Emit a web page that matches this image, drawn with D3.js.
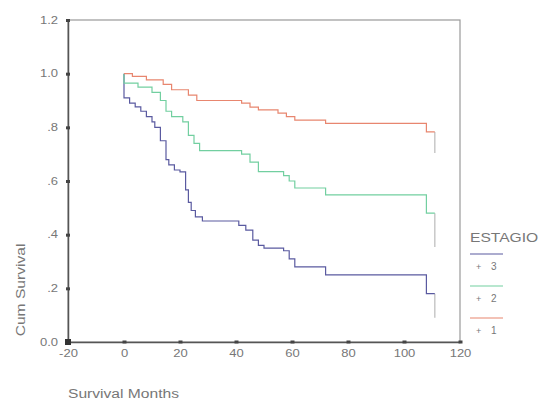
<!DOCTYPE html>
<html>
<head>
<meta charset="utf-8" />
<title>Survival</title>
<style>
body { margin: 0; background: #fff; }
#graph { width: 546px; height: 402px; }
text { font-family: "Liberation Sans", Arial, sans-serif; fill: #777; }
</style>
</head>
<body>
<div id="graph"></div>
<script src="https://d3js.org/d3.v7.min.js"></script>
<script>
// tick labels
var xTicks = [-20, 0, 20, 40, 60, 80, 100, 120];
var yTicks = [0, 0.2, 0.4, 0.6, 0.8, 1.0, 1.2];
var yTickLabels = ["0.0", ".2", ".4", ".6", ".8", "1.0", "1.2"];

// series: ESTAGIO groups
var groups = ["3", "2", "1"];
var colors = ["#5a5aa0", "#72cfa0", "#e8866f"];

var time3 = [0, 0, 2, 4, 6, 8, 10, 11, 13, 15, 16, 18, 20, 22, 23, 24, 25.5, 28, 41, 43.5, 46, 48, 50, 57, 59, 61, 72, 108, 111];
var surv3 = [1.0, 0.91, 0.89, 0.876, 0.86, 0.84, 0.82, 0.80, 0.75, 0.68, 0.66, 0.641, 0.634, 0.567, 0.52, 0.49, 0.466, 0.451, 0.435, 0.417, 0.38, 0.36, 0.35, 0.34, 0.31, 0.28, 0.25, 0.18, 0.18];

var time2 = [0, 0, 5, 10, 13, 15, 17, 21, 23, 25, 27, 42, 45, 48, 57, 59, 61, 72, 108, 111];
var surv2 = [1.0, 0.965, 0.95, 0.93, 0.90, 0.86, 0.84, 0.82, 0.77, 0.74, 0.713, 0.70, 0.67, 0.635, 0.62, 0.60, 0.574, 0.548, 0.48, 0.48];

var time1 = [0, 3, 8, 14, 17, 23, 26, 42, 45, 48, 55, 58, 61, 72, 108, 111];
var surv1 = [1.0, 0.99, 0.977, 0.96, 0.94, 0.92, 0.90, 0.89, 0.875, 0.865, 0.853, 0.84, 0.827, 0.815, 0.783, 0.783];

// censored tails at the last follow-up
var tailTime = 111;
var tailEnd = [0.09, 0.354, 0.704];

!(function(){
    "use strict"
    var width = 546, height = 402;
    var margin = {top: 20, left: 68, bottom: 60, right: 86};
    var chartWidth = width - margin.left - margin.right;
    var chartHeight = height - margin.top - margin.bottom;
    var stretch = 1.3;  // the original text is drawn wide

    var svg = d3.select("#graph").append("svg").attr("width", width).attr("height", height);
    var chartLayer = svg.append("g").attr("transform", "translate(" + [margin.left, margin.top] + ")");

    var xScale = d3.scaleLinear().domain([-20, 120]).range([0, chartWidth]);
    var yScale = d3.scaleLinear().domain([0, 1.2]).range([chartHeight, 0]);

    function widen(sel) {
        sel.each(function(){
            var w = this.getComputedTextLength();
            d3.select(this).attr("textLength", w * stretch).attr("lengthAdjust", "spacingAndGlyphs");
        });
    }

    // frame
    chartLayer.append("rect")
        .attr("width", chartWidth).attr("height", chartHeight)
        .attr("fill", "none").attr("stroke", "#999").attr("stroke-width", 1.2);

    var yAxis = d3.axisLeft(yScale).tickValues(yTicks).tickSize(0).tickPadding(10)
        .tickFormat(function(d, i){ return yTickLabels[i] });
    var xAxis = d3.axisBottom(xScale).tickValues(xTicks).tickSize(0).tickPadding(8)
        .tickFormat(function(d){ return d < 0 ? "-" + (-d) : d });

    var gy = chartLayer.append("g").attr("class", "axis y").call(yAxis);
    var gx = chartLayer.append("g").attr("class", "axis x")
        .attr("transform", "translate(0," + chartHeight + ")").call(xAxis);

    [gx, gy].forEach(function(g){
        g.select(".domain").attr("stroke", "#555").attr("stroke-width", 1.5);
        g.selectAll("text").attr("fill", "#888").style("font-size", "10px").call(widen);
    });

    // tick markers
    gy.selectAll(".tick").append("rect")
        .attr("x", -2).attr("y", -1.5).attr("width", 4).attr("height", 3).attr("fill", "#444");
    gx.selectAll(".tick").append("rect")
        .attr("x", -2).attr("y", -1.5).attr("width", 4).attr("height", 3).attr("fill", "#444");
    chartLayer.append("rect").attr("x", -3).attr("y", chartHeight - 3)
        .attr("width", 6).attr("height", 6).attr("fill", "#333");

    var lineGen = d3.line()
        .x(function(d){ return xScale(d[0]) })
        .y(function(d){ return yScale(d[1]) })
        .curve(d3.curveStepAfter);

    var series = [d3.zip(time3, surv3), d3.zip(time2, surv2), d3.zip(time1, surv1)];
    series.forEach(function(s, i){
        if (s[0][1] !== 1.0) s.unshift([0, 1.0]);
    });

    chartLayer.selectAll(".tail")
        .data(series)
        .enter().append("line").attr("class", "tail")
        .attr("x1", xScale(tailTime)).attr("x2", xScale(tailTime))
        .attr("y1", function(d){ return yScale(d[d.length - 1][1]) })
        .attr("y2", function(d, i){ return yScale(tailEnd[i]) })
        .attr("stroke", "#c8c8c8").attr("stroke-width", 1.5);

    chartLayer.selectAll(".line")
        .data(series)
        .enter().append("path").attr("class", "line")
        .attr("d", lineGen)
        .attr("fill", "none")
        .attr("stroke", function(d, i){ return colors[i] })
        .attr("stroke-width", 1.2);

    // axis titles
    svg.append("text")
        .attr("transform", "translate(25," + 290 + ") rotate(-90)")
        .attr("text-anchor", "middle")
        .style("font-size", "12px").attr("fill", "#888")
        .text("Cum Survival").call(widen);
    svg.append("text")
        .attr("x", 68).attr("y", 398)
        .style("font-size", "12px").attr("fill", "#888")
        .text("Survival Months").call(widen);

    // legend
    var legend = svg.append("g").attr("transform", "translate(470,0)");
    legend.append("text").attr("x", 0).attr("y", 242)
        .style("font-size", "12px").attr("fill", "#888").text("ESTAGIO").call(widen);
    var items = legend.selectAll(".item").data(groups).enter().append("g")
        .attr("class", "item")
        .attr("transform", function(d, i){ return "translate(0," + (254 + i * 32) + ")" });
    items.append("line").attr("x1", 0).attr("x2", 33).attr("y1", 0).attr("y2", 0)
        .attr("stroke", function(d, i){ return colors[i] }).attr("stroke-width", 1.2);
    items.append("text").attr("x", 6).attr("y", 16)
        .style("font-size", "9px").attr("fill", "#888").text("+");
    items.append("text").attr("x", 21).attr("y", 16)
        .style("font-size", "10px").attr("fill", "#777").text(function(d){ return d });
}());
</script>
</body>
</html>
